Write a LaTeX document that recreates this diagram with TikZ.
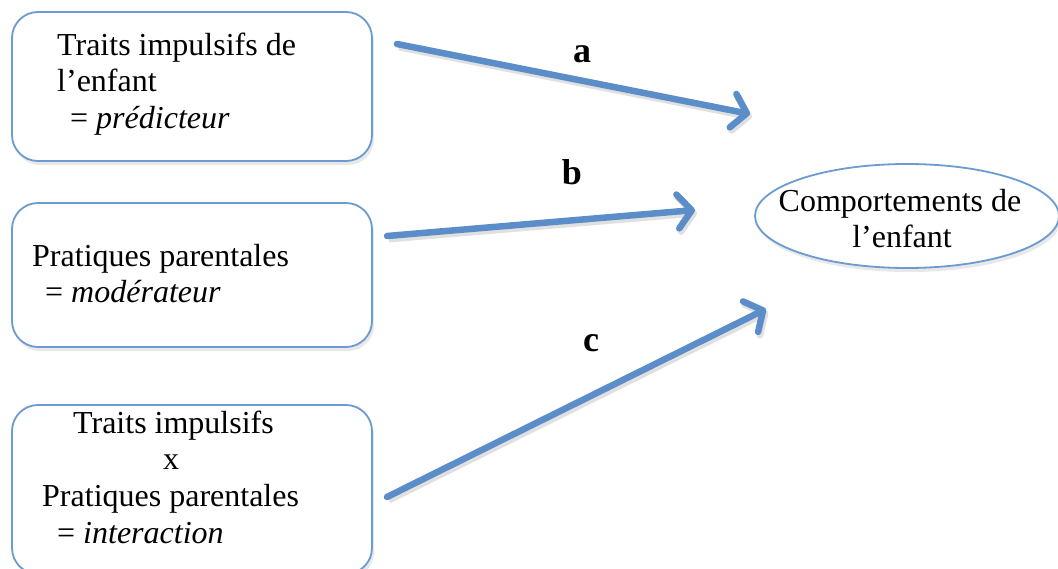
\documentclass[tikz,border=0pt]{standalone}
\usepackage{fontspec}
\setmainfont{Liberation Serif}
\usetikzlibrary{arrows.meta,shadows,shapes.geometric}
\definecolor{boxblue}{HTML}{6A9BD1}
\definecolor{arrblue}{HTML}{5B8DC9}
\begin{document}
\begin{tikzpicture}[x=1pt,y=-1pt,
  box/.style={draw=boxblue,line width=1.8pt,rounded corners=26pt,fill=white,
    drop shadow={opacity=0.18,shadow xshift=2pt,shadow yshift=-4pt}},
  txt/.style={anchor=base west,inner sep=0pt,font=\fontsize{32}{37}\selectfont},
  lbl/.style={anchor=base,inner sep=0pt,font=\fontsize{36}{40}\selectfont\bfseries},
  arr/.style={draw=arrblue,line width=6.5pt,line cap=round,
    -{Straight Barb[length=14pt,width=34pt,line width=6.5pt,round]},
    preaction={draw=black,opacity=0.12,line width=7pt,transform canvas={shift={(2pt,-3pt)}},-{Straight Barb[length=14pt,width=34pt,line width=7pt,round]}}}
]
\useasboundingbox (0,0) rectangle (1058,569);
\fill[white] (0,0) rectangle (1058,569);
% boxes
\draw[box] (12,12) rectangle (372,161) node[pos=0,anchor=north west,inner sep=0pt] (b1) {};
\draw[box] (12,203) rectangle (372,347) node[pos=0,anchor=north west,inner sep=0pt] (b2) {};
\draw[box] (12,405) rectangle (372,574) node[pos=0,anchor=north west,inner sep=0pt] (b3) {};
% ellipse
\node[draw=boxblue,line width=1.8pt,ellipse,fill=white,minimum width=304pt,minimum height=104pt,
  drop shadow={opacity=0.18,shadow xshift=2pt,shadow yshift=-4pt}] (ell) at (907,216) {};
\node[anchor=base,inner sep=0pt,font=\fontsize{32}{37}\selectfont] (e1) at (900,212) {Comportements de};
\node[anchor=base,inner sep=0pt,font=\fontsize{32}{37}\selectfont] (e2) at (902,248) {l’enfant};
% box texts
\node[txt] (t11) at (57,56) {Traits impulsifs de};
\node[txt] (t12) at (57,92) {l’enfant};
\node[txt] (t13) at (70,129) {= \textit{prédicteur}};
\node[txt] (t21) at (32,267) {Pratiques parentales};
\node[txt] (t22) at (45,303) {= \textit{modérateur}};
\node[txt] (t31) at (73,433) {Traits impulsifs};
\node[txt] (t32) at (163,469) {x};
\node[txt] (t33) at (42,506) {Pratiques parentales};
\node[txt] (t34) at (57,543) {= \textit{interaction}};
% labels
\node[lbl] (la) at (582,63) {a};
\node[lbl] (lb) at (572,185) {b};
\node[lbl] (lc) at (591,352) {c};
% arrows
\coordinate (a0) at (397,44);
\coordinate (a1) at (750,114);
\coordinate (bb0) at (387,236);
\coordinate (bb1) at (695,210);
\coordinate (c0) at (387,497);
\coordinate (c1) at (766,309);
\draw[arr] (a0) -- (a1);
\draw[arr] (bb0) -- (bb1);
\draw[arr] (c0) -- (c1);
\end{tikzpicture}
\end{document}
